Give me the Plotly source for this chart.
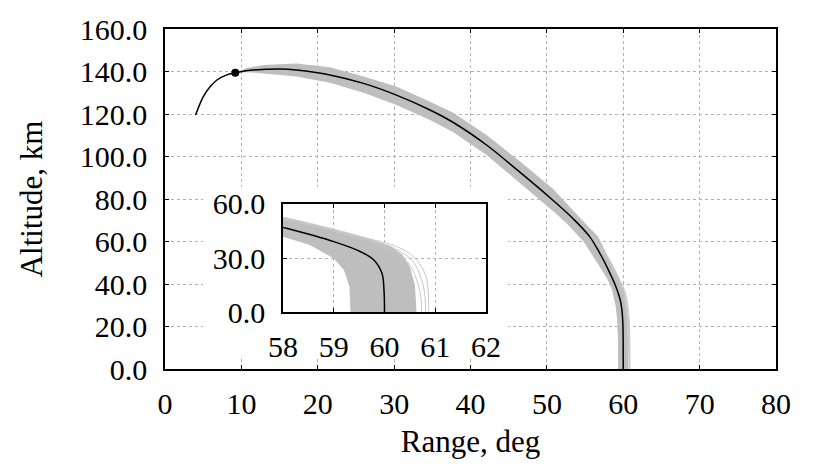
import plotly.graph_objects as go

# Nominal trajectory (range deg, altitude km)
nom_range = [4.0, 5.0, 5.9, 6.8, 8.1, 9.2, 10.6, 12.9, 15.0, 17.2, 21.6, 26.0, 30.3, 34.7,
             37.75, 42.1, 46.5, 50.6, 53.5, 55.6, 57.0, 58.0, 59.0, 59.53, 59.79, 59.95, 59.99, 60.0]
nom_alt = [119.5, 128.1, 132.8, 136.0, 138.4, 139.4, 140.4, 141.0, 141.2, 140.7, 138.4, 134.4, 128.9, 121.9,
           116.0, 105.4, 92.5, 80.0, 70.5, 62.3, 54.0, 47.0, 39.1, 33.5, 28.9, 21.5, 12.2, 0.0]

# Dispersion start point
start_range = [9.2]
start_alt = [139.4]

# Dispersion envelope: outer (upper/right) edge
outer_range = [9.2, 10.6, 12.9, 17.2, 21.6, 26.0, 30.3, 34.7, 37.75, 42.1, 46.5, 50.8, 54.6, 56.7,
               58.0, 59.0, 59.66, 60.1, 60.35, 60.5, 60.6, 60.63]
outer_alt = [139.4, 141.5, 143.1, 143.8, 142.0, 137.6, 132.9, 125.8, 120.6, 110.1, 97.6, 84.8, 70.1, 62.3,
             52.9, 45.9, 40.9, 37.0, 32.0, 25.0, 15.0, 0.0]
# Dispersion envelope: inner (lower/left) edge
inner_range = [9.2, 10.6, 12.9, 17.2, 21.6, 26.0, 30.3, 34.7, 37.75, 42.1, 46.5, 50.8, 52.6, 54.8, 56.6,
               58.0, 58.53, 59.0, 59.2, 59.31, 59.33]
inner_alt = [139.4, 139.7, 139.1, 137.6, 134.7, 130.0, 124.2, 117.2, 111.4, 100.7, 87.4, 74.3, 68.5, 60.0, 50.0,
             41.8, 37.2, 29.8, 23.3, 14.0, 0.0]

# Outlying dispersed trajectories (near impact)
strayA_range = [55.8, 58.0, 59.0, 59.66, 60.18, 60.44, 60.57, 60.73, 60.82, 60.86, 60.87]
strayA_alt = [63.0, 52.5, 46.0, 41.0, 37.0, 33.5, 30.7, 25.2, 19.6, 12.2, 0.0]
strayB_range = [55.8, 58.0, 59.0, 59.66, 60.15, 60.4, 60.55, 60.68, 60.76, 60.8, 60.81]
strayB_alt = [62.5, 52.0, 45.5, 40.5, 36.0, 32.0, 28.5, 22.0, 15.0, 8.0, 0.0]
strayC_range = [55.8, 58.0, 59.0, 59.6, 60.1, 60.35, 60.5, 60.62, 60.7, 60.73, 60.73]
strayC_alt = [62.0, 51.5, 45.0, 40.0, 35.0, 30.5, 26.0, 19.0, 11.0, 5.0, 0.0]

x_ticks = [0, 10, 20, 30, 40, 50, 60, 70, 80]
y_ticks = [0, 20, 40, 60, 80, 100, 120, 140, 160]
inset_x_ticks = [58, 59, 60, 61, 62]
inset_y_ticks = [0, 30, 60]

FONT = "Liberation Serif"
GRAY = "#bebebe"

band_x = outer_range + inner_range[::-1]
band_y = outer_alt + inner_alt[::-1]

fig = go.Figure()
for xa, ya in (("x", "y"), ("x2", "y2")):
    fig.add_trace(go.Scatter(x=band_x, y=band_y, fill="toself", fillcolor=GRAY, mode="none",
                             xaxis=xa, yaxis=ya, showlegend=False, hoverinfo="skip"))
    for sx, sy in ((strayA_range, strayA_alt), (strayB_range, strayB_alt), (strayC_range, strayC_alt)):
        fig.add_trace(go.Scatter(x=sx, y=sy, mode="lines", line=dict(color="#c8c8c8", width=1),
                                 line_shape="spline", xaxis=xa, yaxis=ya, showlegend=False,
                                 hoverinfo="skip"))
    fig.add_trace(go.Scatter(x=nom_range, y=nom_alt, mode="lines", line=dict(color="black", width=1.5),
                             line_shape="spline", xaxis=xa, yaxis=ya, showlegend=False))

fig.add_trace(go.Scatter(x=start_range, y=start_alt, mode="markers",
                         marker=dict(color="black", size=8), xaxis="x", yaxis="y", showlegend=False))

axis_common = dict(showline=True, linecolor="black", linewidth=1.5, mirror="ticks",
                   ticks="inside", ticklen=4, tickcolor="black",
                   showgrid=True, gridcolor="#b0b0b0", griddash="dot", gridwidth=1,
                   zeroline=False, tickfont=dict(family=FONT, size=30, color="black"))

# page body adds an 8 px offset, so the figure is sized 8 px smaller
fig.update_layout(
    width=822, height=458,
    margin=dict(l=157, r=54, t=21, b=97),
    paper_bgcolor="white", plot_bgcolor="white",
    font=dict(family=FONT, color="black"),
    xaxis=dict(range=[0, 80], tickvals=x_ticks, ticktext=[str(v) for v in x_ticks],
               title=dict(text="Range, deg", font=dict(family=FONT, size=31), standoff=12),
               ticklabelstandoff=7, automargin=False, **axis_common),
    yaxis=dict(range=[0, 160], tickvals=y_ticks, tickformat=".1f",
               title=dict(text="Altitude, km", font=dict(family=FONT, size=31), standoff=28),
               ticklabelstandoff=10, automargin=False, **axis_common),
    xaxis2=dict(domain=[0.1931, 0.5254], anchor="y2", range=[58, 62], tickvals=inset_x_ticks,
                ticktext=[str(v) for v in inset_x_ticks], ticklabelstandoff=7, automargin=False,
                **axis_common),
    yaxis2=dict(domain=[0.1676, 0.4853], anchor="x2", range=[0, 60], tickvals=inset_y_ticks,
                tickformat=".1f", ticklabelstandoff=10, automargin=False, **axis_common),
    shapes=[dict(type="rect", xref="x", yref="y", x0=5.0, x1=44.9, y0=5.1, y1=85.6,
                 fillcolor="white", line=dict(width=0), layer="between")],
)

fig.write_html("out.html")
